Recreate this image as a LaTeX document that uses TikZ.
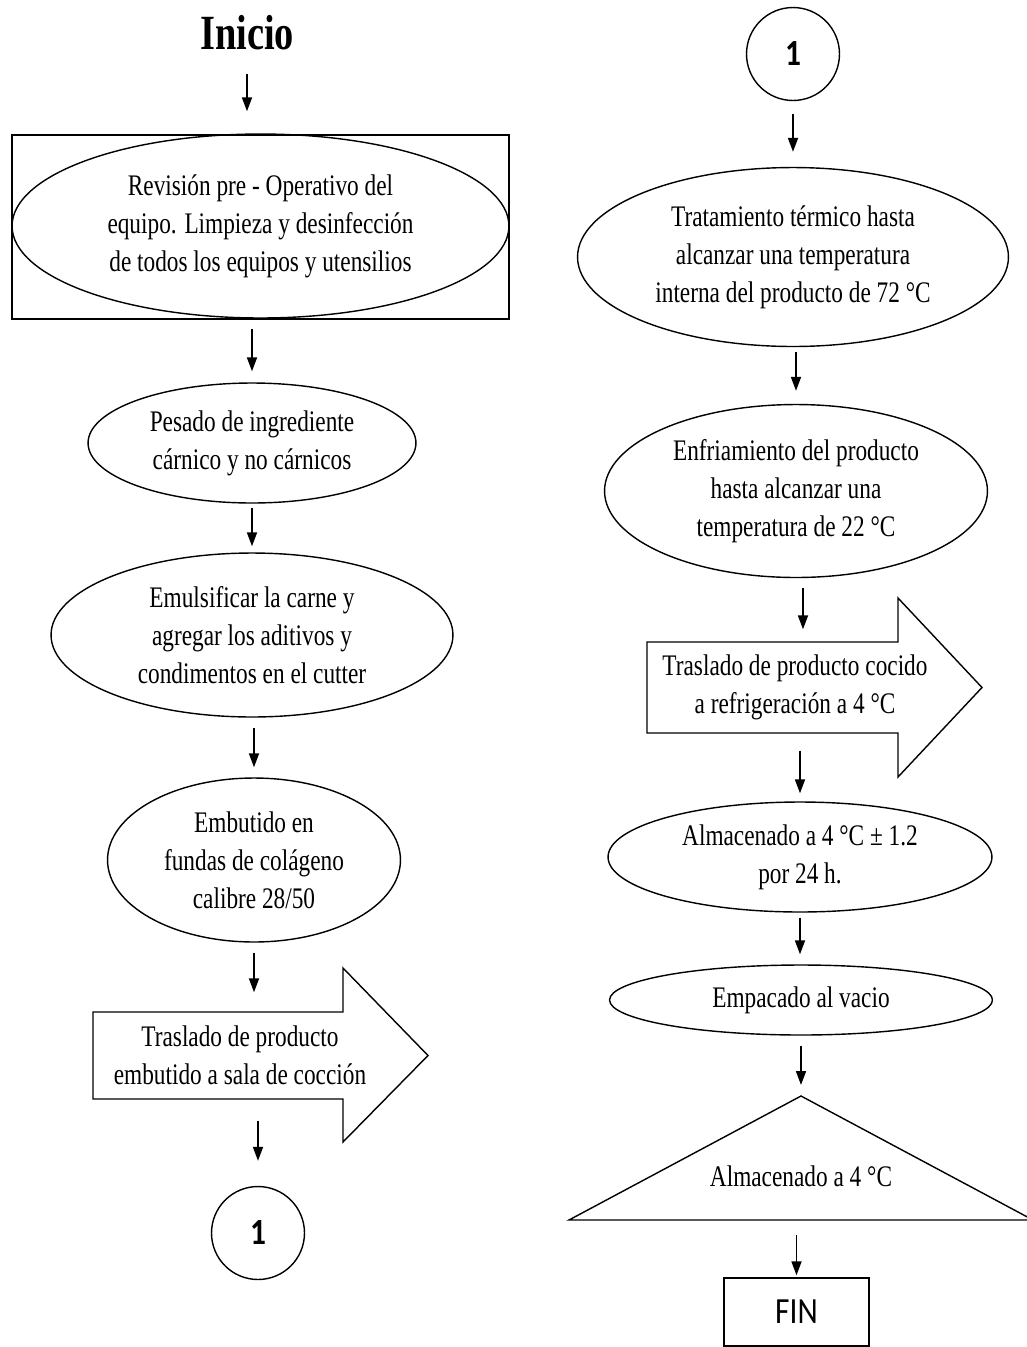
\documentclass[tikz,border=0pt]{standalone}
\usepackage{fontspec}
\setmainfont{Liberation Serif}[FakeStretch=0.78]
\newfontfamily\calfont{Carlito}[FakeStretch=0.85]
\usetikzlibrary{shapes.geometric,arrows.meta}

\begin{document}
\begin{tikzpicture}[x=0.02cm, y=-0.02cm, line width=0.8pt,
  proceso/.style={ellipse, draw, inner sep=0pt, align=center, font=\fontsize{17}{21.6}\selectfont},
  conector/.style={circle, draw, minimum size=1.86cm, inner sep=0pt, font=\calfont\bfseries\fontsize{21}{24}\selectfont},
  texto/.style={inner sep=0pt, align=center, font=\fontsize{17}{21.6}\selectfont},
  flecha/.style={-{Triangle[length=0.28cm,width=0.2cm]}, line width=1pt}]
\useasboundingbox (0,0) rectangle (1027,1347);

\node[inner sep=0pt, font=\bfseries\fontsize{28}{30}\selectfont] (inicio) at (247,33) {Inicio};
\node[draw, minimum width=9.94cm, minimum height=3.68cm, inner sep=0pt] (caja) at (260.5,227) {};
\node[proceso, minimum width=9.94cm, minimum height=3.68cm] (revision) at (260.5,226) {Revisión pre - Operativo del\\equipo. Limpieza y desinfección\\de todos los equipos y utensilios};
\node[proceso, minimum width=6.56cm, minimum height=2.4cm] (pesado) at (252,443) {Pesado de ingrediente\\cárnico y no cárnicos};
\node[proceso, minimum width=8.04cm, minimum height=3.28cm] (emulsificar) at (252,635) {Emulsificar la carne y\\agregar los aditivos y\\condimentos en el cutter};
\node[proceso, minimum width=5.86cm, minimum height=3.28cm] (embutido) at (254,860) {Embutido en\\fundas de colágeno\\calibre 28/50};
\node[texto, minimum height=1.74cm] (traslado1) at (240,1055.5) {Traslado de producto\\embutido a sala de cocción};
\draw (93,1012) -- (343,1012) -- (343,968) -- (428,1055.5) -- (343,1142) -- (343,1099) -- (93,1099) -- cycle;
\node[conector] (uno1) at (258,1233) {1};

\node[conector] (uno2) at (793,54) {1};
\node[proceso, minimum width=8.62cm, minimum height=3.58cm] (tratamiento) at (793,257) {Tratamiento térmico hasta\\alcanzar una temperatura\\interna del producto de 72 °C};
\node[proceso, minimum width=7.66cm, minimum height=3.46cm] (enfriamiento) at (796,491) {Enfriamiento del producto\\hasta alcanzar una\\temperatura de 22 °C};
\node[texto, minimum height=1.82cm] (traslado2) at (795,687.5) {Traslado de producto cocido\\a refrigeración a 4 °C};
\draw (647,642) -- (898,642) -- (898,598) -- (982,687.5) -- (898,777) -- (898,733) -- (647,733) -- cycle;
\node[proceso, minimum width=7.68cm, minimum height=2.2cm] (almacenado) at (800,857) {Almacenado a 4 °C ± 1.2\\por 24 h.};
\node[proceso, minimum width=7.66cm, minimum height=1.4cm] (empacado) at (801,1000) {Empacado al vacio};
\coordinate (vertice) at (801,1096);
\coordinate (base) at (801,1220);
\coordinate (eje) at (803,0);
\draw (vertice) -- (1033,1220) -- (569,1220) -- cycle;
\node[texto] (almacen) at (801,1176) {Almacenado a 4 °C};
\node[draw, minimum width=2.9cm, minimum height=1.36cm, inner sep=0pt, font=\calfont\fontsize{21}{23}\selectfont] (fin) at (796.5,1312) {FIN};

\draw[flecha, shorten <=0.46cm, shorten >=0.46cm] (inicio.south) -- (inicio.south |- caja.north);
\draw[flecha, shorten <=0.18cm, shorten >=0.22cm] (pesado.north |- caja.south) -- (pesado.north);
\draw[flecha, shorten <=0.08cm, shorten >=0.12cm] (pesado.south) -- (pesado.south |- emulsificar.north);
\draw[flecha, shorten <=0.2cm, shorten >=0.2cm] (embutido.north |- emulsificar.south) -- (embutido.north);
\draw[flecha, shorten <=0.2cm, shorten >=0.38cm] (embutido.south) -- (embutido.south |- traslado1.north);
\draw[flecha, shorten <=0.42cm, shorten >=0.5cm] (uno1.north |- traslado1.south) -- (uno1.north);

\draw[flecha, shorten <=0.26cm, shorten >=0.3cm] (uno2.south) -- (uno2.south |- tratamiento.north);
\draw[flecha, shorten <=0.1cm, shorten >=0.26cm] (enfriamiento.north |- tratamiento.south) -- (enfriamiento.north);
\draw[flecha, shorten <=0.2cm, shorten >=0.24cm] (eje |- enfriamiento.south) -- (eje |- traslado2.north);
\draw[flecha, shorten <=0.34cm, shorten >=0.16cm] (almacenado.north |- traslado2.south) -- (almacenado.north);
\draw[flecha, shorten <=0.1cm, shorten >=0.2cm] (almacenado.south) -- (almacenado.south |- empacado.north);
\draw[flecha, shorten <=0.2cm, shorten >=0.22cm] (vertice |- empacado.south) -- (vertice);
\draw[flecha, shorten <=0.3cm, shorten >=0.04cm] (fin.north |- base) -- (fin.north);
\end{tikzpicture}
\end{document}
